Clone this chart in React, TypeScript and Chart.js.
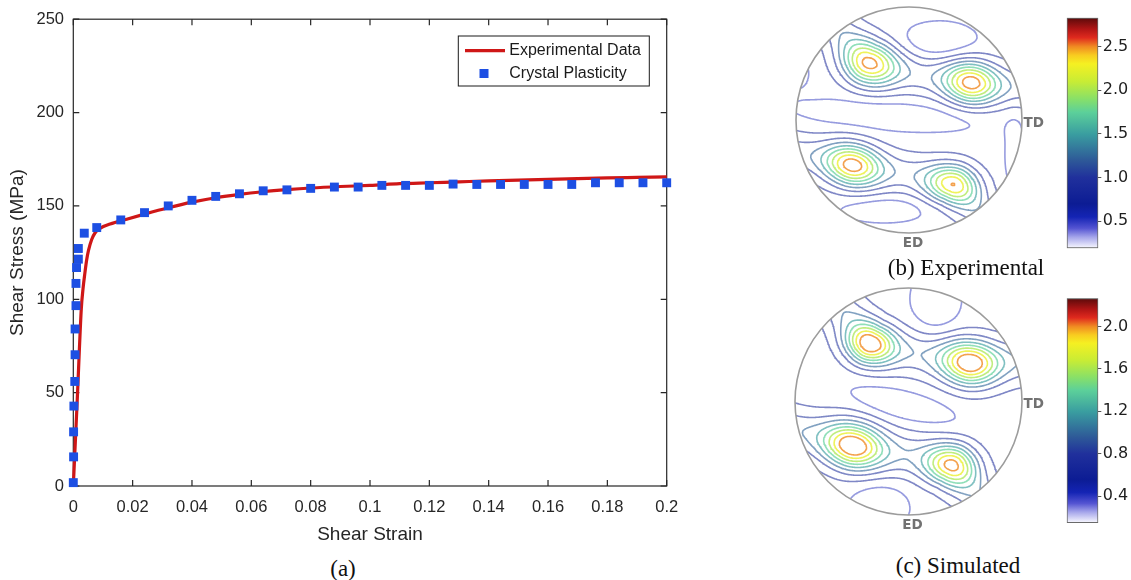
import { useEffect, useRef } from "react";
import { Chart, registerables } from "chart.js";

Chart.register(...registerables);

// ---------- (a) shear stress vs. shear strain ----------
const EXP_STRAIN = [0, 0.0013, 0.0027, 0.0033, 0.0039, 0.0045, 0.0051, 0.0062, 0.0073, 0.009, 0.0124, 0.018, 0.024, 0.032, 0.04, 0.048, 0.056, 0.064, 0.072, 0.08, 0.09, 0.1, 0.11, 0.12, 0.13, 0.14, 0.15, 0.16, 0.17, 0.18, 0.19, 0.2];
const EXP_STRESS = [0, 45, 95, 106, 114, 121, 126, 132, 135.5, 138, 140.3, 142.9, 145.6, 149, 152, 154.4, 156.2, 157.6, 158.7, 159.6, 160.4, 161, 161.9, 162.4, 162.9, 163.4, 163.8, 164.2, 164.6, 165, 165.3, 165.6];

const CP_STRAIN = [0, 0.0001, 0.0001, 0.0002, 0.0005, 0.0006, 0.0006, 0.0009, 0.0009, 0.0011, 0.0017, 0.0017, 0.0037, 0.0079, 0.016, 0.024, 0.032, 0.04, 0.048, 0.056, 0.064, 0.072, 0.08, 0.088, 0.096, 0.104, 0.112, 0.12, 0.128, 0.136, 0.144, 0.152, 0.16, 0.168, 0.176, 0.184, 0.192, 0.2];
const CP_STRESS = [1.8, 15.6, 29, 42.8, 56, 70.3, 84.1, 96.6, 108.5, 117, 121.5, 127.2, 135.4, 138.4, 142.5, 146.4, 150, 153, 155.1, 156.5, 158.1, 158.6, 159.4, 160.1, 160.1, 161, 161, 161, 161.7, 161.5, 161.5, 161.5, 161.5, 161.5, 162.4, 162.4, 162.4, 162.4];

const STRAIN_TICKS = [0, 0.02, 0.04, 0.06, 0.08, 0.1, 0.12, 0.14, 0.16, 0.18, 0.2];
const STRAIN_TICK_LABELS = ["0", "0.02", "0.04", "0.06", "0.08", "0.1", "0.12", "0.14", "0.16", "0.18", "0.2"];
const STRESS_TICKS = [0, 50, 100, 150, 200, 250];

const RED = "#cf1717";
const BLUE = "#1d4fe3";
const INK = "#262626";

// ---------- colour map used by both pole figures ----------
const CMAP_POS = [0, 0.049, 0.087, 0.136, 0.193, 0.307, 0.383, 0.496, 0.59, 0.648, 0.723, 0.8, 0.837, 0.875, 0.913, 0.951, 1];
const CMAP_HEX = ["#fafaff", "#a4a4ea", "#5454d2", "#1424b4", "#0c1c94", "#20309c", "#2e5a98", "#3a9ea0", "#5cd09a", "#88e068", "#c8ec35", "#f5f022", "#f8cc20", "#f08a22", "#e02a1e", "#b01515", "#5a0a0a"];

// ---------- (b) experimental pole figure: intensity model ----------
const B_BASE = 0.62;
const B_PEAK_U = [-0.35, 0.55, -0.5, 0.39];
const B_PEAK_V = [0.5, 0.33, -0.4, -0.57];
const B_PEAK_AMP = [1.5, 1.55, 1.55, 1.39];
const B_PEAK_SU = [0.17, 0.16, 0.17, 0.16];
const B_PEAK_SV = [0.14, 0.13, 0.13, 0.12];
const B_PEAK_ANGLE = [-20, -10, -15, -10];
const B_BAND_UPPER_U = [-0.75, -0.38, 0.1, 0.55, 1.1];
const B_BAND_UPPER_V = [0.95, 0.52, 0.4, 0.33, 0.28];
const B_BAND_LOWER_U = [-1.1, -0.5, 0.0, 0.39, 0.6, 0.75];
const B_BAND_LOWER_V = [-0.26, -0.4, -0.48, -0.57, -0.8, -1.05];
const B_BAND_AMP = 0.5;
const B_BAND_SIGMA = 0.12;
const B_DIP_U = [0.27, -0.2, -0.22, 0.93, -0.97];
const B_DIP_V = [0.7, 0.04, -0.79, -0.33, 0.42];
const B_DIP_AMP = [-0.36, -0.32, -0.3, -0.3, -0.25];
const B_DIP_SU = [0.24, 0.62, 0.3, 0.06, 0.07];
const B_DIP_SV = [0.12, 0.1, 0.09, 0.22, 0.1];
const B_DIP_ANGLE = [0, -4, 0, 0, 0];
const B_LEVELS = [0.5, 0.75, 1.0, 1.25, 1.5, 1.75, 2.0, 2.25, 2.5];
const B_CB_MIN = 0.19;
const B_CB_MAX = 2.83;
const B_CB_TICKS = [0.5, 1.0, 1.5, 2.0, 2.5];

// ---------- (c) simulated pole figure: intensity model ----------
const C_BASE = 0.5;
const C_PEAK_U = [-0.34, 0.54, -0.49, 0.38];
const C_PEAK_V = [0.51, 0.34, -0.39, -0.56];
const C_PEAK_AMP = [1.3, 1.3, 1.32, 1.15];
const C_PEAK_SU = [0.15, 0.17, 0.18, 0.155];
const C_PEAK_SV = [0.123, 0.135, 0.14, 0.124];
const C_PEAK_ANGLE = [-15, -10, -15, -10];
const C_BAND_UPPER_U = [-0.7, -0.34, 0.1, 0.54, 1.1];
const C_BAND_UPPER_V = [0.95, 0.51, 0.42, 0.34, 0.36];
const C_BAND_LOWER_U = [-1.1, -0.49, 0.0, 0.38, 0.58, 0.7];
const C_BAND_LOWER_V = [-0.22, -0.39, -0.47, -0.56, -0.8, -1.05];
const C_BAND_AMP = 0.45;
const C_BAND_SIGMA = 0.13;
const C_DIP_U = [0.24, -0.05, -0.26];
const C_DIP_V = [0.9, -0.03, -0.93];
const C_DIP_AMP = [-0.32, -0.3, -0.32];
const C_DIP_SU = [0.15, 0.33, 0.18];
const C_DIP_SV = [0.2, 0.09, 0.14];
const C_DIP_ANGLE = [0, -14, 0];
const C_LEVELS = [0.4, 0.6, 0.8, 1.0, 1.2, 1.4, 1.6, 1.8, 2.0];
const C_CB_MIN = 0.147;
const C_CB_MAX = 2.265;
const C_CB_TICKS = [0.4, 0.8, 1.2, 1.6, 2.0];

type PoleSpec = {
  base: number;
  peakU: number[]; peakV: number[]; peakAmp: number[]; peakSu: number[]; peakSv: number[]; peakAngle: number[];
  bandsU: number[][]; bandsV: number[][]; bandAmp: number; bandSigma: number;
  dipU: number[]; dipV: number[]; dipAmp: number[]; dipSu: number[]; dipSv: number[]; dipAngle: number[];
  levels: number[]; cbMin: number; cbMax: number;
};

const SPEC_B: PoleSpec = {
  base: B_BASE, peakU: B_PEAK_U, peakV: B_PEAK_V, peakAmp: B_PEAK_AMP, peakSu: B_PEAK_SU, peakSv: B_PEAK_SV, peakAngle: B_PEAK_ANGLE,
  bandsU: [B_BAND_UPPER_U, B_BAND_LOWER_U], bandsV: [B_BAND_UPPER_V, B_BAND_LOWER_V], bandAmp: B_BAND_AMP, bandSigma: B_BAND_SIGMA,
  dipU: B_DIP_U, dipV: B_DIP_V, dipAmp: B_DIP_AMP, dipSu: B_DIP_SU, dipSv: B_DIP_SV, dipAngle: B_DIP_ANGLE,
  levels: B_LEVELS, cbMin: B_CB_MIN, cbMax: B_CB_MAX,
};

const SPEC_C: PoleSpec = {
  base: C_BASE, peakU: C_PEAK_U, peakV: C_PEAK_V, peakAmp: C_PEAK_AMP, peakSu: C_PEAK_SU, peakSv: C_PEAK_SV, peakAngle: C_PEAK_ANGLE,
  bandsU: [C_BAND_UPPER_U, C_BAND_LOWER_U], bandsV: [C_BAND_UPPER_V, C_BAND_LOWER_V], bandAmp: C_BAND_AMP, bandSigma: C_BAND_SIGMA,
  dipU: C_DIP_U, dipV: C_DIP_V, dipAmp: C_DIP_AMP, dipSu: C_DIP_SU, dipSv: C_DIP_SV, dipAngle: C_DIP_ANGLE,
  levels: C_LEVELS, cbMin: C_CB_MIN, cbMax: C_CB_MAX,
};

// ---------- helpers ----------
function hexRgb(h: string) {
  return [parseInt(h.slice(1, 3), 16), parseInt(h.slice(3, 5), 16), parseInt(h.slice(5, 7), 16)];
}

function cmap(f: number, lighten = 0) {
  const t = Math.max(0, Math.min(1, f));
  let k = 0;
  while (k < CMAP_POS.length - 2 && t > CMAP_POS[k + 1]) k++;
  const a = hexRgb(CMAP_HEX[k]);
  const b = hexRgb(CMAP_HEX[k + 1]);
  const s = (t - CMAP_POS[k]) / (CMAP_POS[k + 1] - CMAP_POS[k]);
  const c = a.map((v, i) => v + (b[i] - v) * s).map((v) => Math.round(v + (255 - v) * lighten));
  return `rgb(${c[0]},${c[1]},${c[2]})`;
}

// contour strokes are a paler version of the colour-bar colour, more so for low levels
function contourColour(f: number) {
  return cmap(f, 0.55 - 0.4 * f);
}

function gauss(u: number, v: number, cu: number, cv: number, su: number, sv: number, angDeg: number) {
  const ang = (angDeg * Math.PI) / 180;
  const c = Math.cos(ang), s = Math.sin(ang);
  const du = u - cu, dv = v - cv;
  const a = (du * c + dv * s) / su;
  const b = (-du * s + dv * c) / sv;
  return Math.exp(-0.5 * (a * a + b * b));
}

function polyDist(u: number, v: number, pu: number[], pv: number[]) {
  let best = Infinity;
  for (let k = 0; k < pu.length - 1; k++) {
    const ax = pu[k], ay = pv[k], dx = pu[k + 1] - ax, dy = pv[k + 1] - ay;
    let t = ((u - ax) * dx + (v - ay) * dy) / (dx * dx + dy * dy);
    t = Math.max(0, Math.min(1, t));
    const ex = ax + t * dx - u, ey = ay + t * dy - v;
    best = Math.min(best, ex * ex + ey * ey);
  }
  return Math.sqrt(best);
}

function intensity(s: PoleSpec, u: number, v: number) {
  let f = s.base;
  for (let k = 0; k < s.peakU.length; k++) f += s.peakAmp[k] * gauss(u, v, s.peakU[k], s.peakV[k], s.peakSu[k], s.peakSv[k], s.peakAngle[k]);
  for (let k = 0; k < s.bandsU.length; k++) {
    const d = polyDist(u, v, s.bandsU[k], s.bandsV[k]) / s.bandSigma;
    f += s.bandAmp * Math.exp(-0.5 * d * d);
  }
  for (let k = 0; k < s.dipU.length; k++) f += s.dipAmp[k] * gauss(u, v, s.dipU[k], s.dipV[k], s.dipSu[k], s.dipSv[k], s.dipAngle[k]);
  return f;
}

const GRID_N = 200;
const GRID_LO = -1.05;
const GRID_HI = 1.05;

// marching-squares edge pairs per cell case (edges: 0 bottom, 1 right, 2 top, 3 left)
const MS_CASES: number[][] = [[], [3, 0], [0, 1], [3, 1], [1, 2], [], [0, 2], [3, 2], [3, 2], [0, 2], [], [1, 2], [3, 1], [0, 1], [3, 0], []];

function sampleGrid(s: PoleSpec) {
  const m = GRID_N + 1;
  const step = (GRID_HI - GRID_LO) / GRID_N;
  const g = new Float64Array(m * m);
  for (let j = 0; j < m; j++) for (let i = 0; i < m; i++) g[j * m + i] = intensity(s, GRID_LO + i * step, GRID_LO + j * step);
  return g;
}

function contourPoints(g: Float64Array, level: number) {
  const m = GRID_N + 1;
  const step = (GRID_HI - GRID_LO) / GRID_N;
  const pts: { x: number; y: number | null }[] = [];
  for (let j = 0; j < GRID_N; j++) {
    for (let i = 0; i < GRID_N; i++) {
      const a = g[j * m + i], b = g[j * m + i + 1], c = g[(j + 1) * m + i + 1], d = g[(j + 1) * m + i];
      const idx = (a >= level ? 1 : 0) | (b >= level ? 2 : 0) | (c >= level ? 4 : 0) | (d >= level ? 8 : 0);
      if (idx === 0 || idx === 15) continue;
      const x0 = GRID_LO + i * step, y0 = GRID_LO + j * step;
      const edge = (e: number): [number, number] => {
        if (e === 0) return [x0 + ((level - a) / (b - a)) * step, y0];
        if (e === 1) return [x0 + step, y0 + ((level - b) / (c - b)) * step];
        if (e === 2) return [x0 + ((level - d) / (c - d)) * step, y0 + step];
        return [x0, y0 + ((level - a) / (d - a)) * step];
      };
      let pairs: number[][];
      const centre = (a + b + c + d) / 4 >= level;
      if (idx === 5) pairs = centre ? [[0, 1], [3, 2]] : [[3, 0], [1, 2]];
      else if (idx === 10) pairs = centre ? [[3, 0], [1, 2]] : [[0, 1], [3, 2]];
      else pairs = [MS_CASES[idx]];
      for (const [e1, e2] of pairs) {
        const p = edge(e1), q = edge(e2);
        pts.push({ x: p[0], y: p[1] }, { x: q[0], y: q[1] }, { x: q[0], y: null });
      }
    }
  }
  return pts;
}

// ---------- chart plugins ----------
const stressFramePlugin = {
  id: "stressFrame",
  beforeDatasetsDraw(chart: any) {
    const { ctx, chartArea: a } = chart;
    const xs = chart.scales.x, ys = chart.scales.y;
    ctx.save();
    ctx.strokeStyle = INK;
    ctx.lineWidth = 1.2;
    ctx.strokeRect(a.left, a.top, a.right - a.left, a.bottom - a.top);
    ctx.beginPath();
    for (const v of STRAIN_TICKS) {
      const x = xs.getPixelForValue(v);
      ctx.moveTo(x, a.bottom); ctx.lineTo(x, a.bottom - 6);
      ctx.moveTo(x, a.top); ctx.lineTo(x, a.top + 6);
    }
    for (const v of STRESS_TICKS) {
      const y = ys.getPixelForValue(v);
      ctx.moveTo(a.left, y); ctx.lineTo(a.left + 6, y);
      ctx.moveTo(a.right, y); ctx.lineTo(a.right - 6, y);
    }
    ctx.stroke();
    ctx.restore();
  },
  afterDatasetsDraw(chart: any) {
    const { ctx, chartArea: a } = chart;
    const ds = chart.data.datasets;
    const lx = a.right - 208.4, ly = a.top + 16.8, lw = 191, lh = 50;
    ctx.save();
    ctx.fillStyle = "#fff";
    ctx.fillRect(lx, ly, lw, lh);
    ctx.strokeStyle = "#1a1a1a";
    ctx.lineWidth = 1;
    ctx.strokeRect(lx, ly, lw, lh);
    ctx.strokeStyle = RED;
    ctx.lineWidth = 3.2;
    ctx.beginPath();
    ctx.moveTo(lx + 6.7, ly + 14.7);
    ctx.lineTo(lx + 46.7, ly + 14.7);
    ctx.stroke();
    ctx.fillStyle = BLUE;
    ctx.fillRect(lx + 21.2, ly + 33, 9, 9);
    ctx.fillStyle = "#1a1a1a";
    ctx.font = '16px "Liberation Sans", Arial, sans-serif';
    ctx.textBaseline = "middle";
    ctx.textAlign = "left";
    ctx.fillText(ds[0].label, lx + 51, ly + 15);
    ctx.fillText(ds[1].label, lx + 51, ly + 37.5);
    ctx.restore();
  },
};

const poleFramePlugin = {
  id: "poleFrame",
  beforeDatasetsDraw(chart: any) {
    const { ctx } = chart;
    const xs = chart.scales.x, ys = chart.scales.y;
    const cx = xs.getPixelForValue(0), cy = ys.getPixelForValue(0);
    const r = (xs.getPixelForValue(1) - xs.getPixelForValue(-1)) / 2;
    ctx.save();
    ctx.beginPath();
    ctx.arc(cx, cy, r, 0, Math.PI * 2);
    ctx.clip();
  },
  afterDatasetsDraw(chart: any) {
    const { ctx } = chart;
    ctx.restore();
    const xs = chart.scales.x, ys = chart.scales.y;
    const cx = xs.getPixelForValue(0), cy = ys.getPixelForValue(0);
    const r = (xs.getPixelForValue(1) - xs.getPixelForValue(-1)) / 2;
    ctx.save();
    ctx.strokeStyle = "#9c9c9c";
    ctx.lineWidth = 1.6;
    ctx.beginPath();
    ctx.arc(cx, cy, r, 0, Math.PI * 2);
    ctx.stroke();
    ctx.fillStyle = "#727272";
    ctx.font = 'bold 13.5px "DejaVu Sans", sans-serif';
    ctx.textBaseline = "middle";
    ctx.textAlign = "left";
    ctx.fillText("TD", cx + r + 1.5, cy + 3);
    ctx.textAlign = "center";
    ctx.fillText("ED", cx + 4, cy + r + 10);
    ctx.restore();
  },
};

// ---------- components ----------
function StressStrainChart() {
  const ref = useRef<HTMLCanvasElement>(null);
  useEffect(() => {
    const tickFont = { family: '"Liberation Sans", Arial, sans-serif', size: 16.5 };
    const titleFont = { family: '"Liberation Sans", Arial, sans-serif', size: 19 };
    const chart = new Chart(ref.current!, {
      type: "scatter",
      data: {
        datasets: [
          {
            label: "Experimental Data",
            data: EXP_STRAIN.map((x, i) => ({ x, y: EXP_STRESS[i] })),
            showLine: true,
            borderColor: RED,
            backgroundColor: RED,
            borderWidth: 3.2,
            pointRadius: 0,
            cubicInterpolationMode: "monotone",
            order: 1,
            clip: false,
          } as any,
          {
            label: "Crystal Plasticity",
            data: CP_STRAIN.map((x, i) => ({ x, y: CP_STRESS[i] })),
            showLine: false,
            pointStyle: "rect",
            pointRadius: 6.3,
            pointBorderWidth: 0,
            backgroundColor: BLUE,
            borderColor: BLUE,
            order: 0,
            clip: false,
          } as any,
        ],
      },
      options: {
        responsive: false,
        animation: false,
        events: [],
        layout: { padding: { left: 0, right: 33.3, top: 17.5, bottom: 0 } },
        plugins: { legend: { display: false }, tooltip: { enabled: false } },
        scales: {
          x: {
            type: "linear",
            min: 0,
            max: 0.2,
            afterBuildTicks: (s: any) => { s.ticks = STRAIN_TICKS.map((value) => ({ value })); },
            afterFit: (s: any) => { s.height = 64; },
            ticks: {
              autoSkip: false,
              maxRotation: 0,
              padding: 12,
              color: INK,
              font: tickFont,
              callback: (_v: any, i: number) => STRAIN_TICK_LABELS[i],
            },
            grid: { display: false, drawTicks: false },
            border: { display: false },
            title: { display: true, text: "Shear Strain", color: INK, font: titleFont, padding: { top: 0, bottom: 3.6 } },
          },
          y: {
            type: "linear",
            min: 0,
            max: 250,
            afterBuildTicks: (s: any) => { s.ticks = STRESS_TICKS.map((value) => ({ value })); },
            afterFit: (s: any) => { s.width = 73.3; },
            ticks: { padding: 9.3, color: INK, font: tickFont },
            grid: { display: false, drawTicks: false },
            border: { display: false },
            title: { display: true, text: "Shear Stress (MPa)", color: INK, font: titleFont, padding: { top: 6.6, bottom: 0 } },
          },
        },
      } as any,
      plugins: [stressFramePlugin],
    });
    return () => chart.destroy();
  }, []);
  return <canvas ref={ref} width={700} height={550} style={{ position: "absolute", left: 0, top: 0 }} />;
}

function PoleFigure({ spec, left, top, width, height, pad }: { spec: PoleSpec; left: number; top: number; width: number; height: number; pad: { left: number; right: number; top: number; bottom: number } }) {
  const ref = useRef<HTMLCanvasElement>(null);
  useEffect(() => {
    const grid = sampleGrid(spec);
    const datasets = spec.levels.map((level) => ({
      label: `${level}`,
      data: contourPoints(grid, level),
      showLine: true,
      spanGaps: false,
      borderColor: contourColour((level - spec.cbMin) / (spec.cbMax - spec.cbMin)),
      borderWidth: 1.6,
      borderCapStyle: "round",
      borderJoinStyle: "round",
      pointRadius: 0,
      tension: 0,
    }));
    const chart = new Chart(ref.current!, {
      type: "scatter",
      data: { datasets: datasets as any },
      options: {
        responsive: false,
        animation: false,
        events: [],
        layout: { padding: pad },
        plugins: { legend: { display: false }, tooltip: { enabled: false } },
        scales: {
          x: { type: "linear", min: -1, max: 1, display: false },
          y: { type: "linear", min: -1, max: 1, display: false },
        },
      } as any,
      plugins: [poleFramePlugin],
    });
    return () => chart.destroy();
  }, []);
  return <canvas ref={ref} width={width} height={height} style={{ position: "absolute", left, top }} />;
}

function ColorBar({ min, max, ticks, left, top, width, height, pad }: { min: number; max: number; ticks: number[]; left: number; top: number; width: number; height: number; pad: { left: number; top: number; bottom: number } }) {
  const ref = useRef<HTMLCanvasElement>(null);
  useEffect(() => {
    const chart = new Chart(ref.current!, {
      type: "bar",
      data: {
        labels: [""],
        datasets: [
          {
            data: [[min, max]] as any,
            barPercentage: 1,
            categoryPercentage: 1,
            borderWidth: 1.3,
            borderColor: "#6a6a6a",
            borderSkipped: false,
            backgroundColor: (c: any) => {
              const area = c.chart.chartArea;
              if (!area) return "#fff";
              const gr = c.chart.ctx.createLinearGradient(0, area.bottom, 0, area.top);
              CMAP_POS.forEach((p, i) => gr.addColorStop(p, CMAP_HEX[i]));
              return gr;
            },
          },
        ],
      },
      options: {
        responsive: false,
        animation: false,
        events: [],
        layout: { padding: { left: pad.left, right: 0, top: pad.top, bottom: pad.bottom } },
        plugins: { legend: { display: false }, tooltip: { enabled: false } },
        scales: {
          x: { display: false },
          y: {
            position: "right",
            min,
            max,
            afterBuildTicks: (s: any) => { s.ticks = ticks.map((value) => ({ value })); },
            afterFit: (s: any) => { s.width = 32.7; },
            ticks: {
              padding: 1.5,
              color: "#1e1e1e",
              font: { family: '"DejaVu Sans", sans-serif', size: 16 },
              callback: (v: any) => Number(v).toFixed(1),
            },
            grid: { drawOnChartArea: false, drawTicks: true, tickLength: 3, color: "#555" },
            border: { display: false },
          },
        },
      } as any,
    });
    return () => chart.destroy();
  }, []);
  return <canvas ref={ref} width={width} height={height} style={{ position: "absolute", left, top }} />;
}

const captionStyle = (x: number, y: number): any => ({
  position: "absolute",
  left: x,
  top: y,
  transform: "translate(-50%, -50%)",
  font: '23px "Liberation Serif", "Times New Roman", serif',
  color: "#111",
  whiteSpace: "nowrap",
  lineHeight: 1,
});

export default function App() {
  return (
    <div style={{ position: "fixed", left: 0, top: 0, width: 1131, height: 580, background: "#fff", overflow: "hidden" }}>
      <StressStrainChart />
      <div style={captionStyle(343, 568)}>(a)</div>

      <PoleFigure spec={SPEC_B} left={790} top={0} width={270} height={260} pad={{ left: 6, right: 38, top: 7, bottom: 27 }} />
      <ColorBar min={B_CB_MIN} max={B_CB_MAX} ticks={B_CB_TICKS} left={1060} top={0} width={71} height={260} pad={{ left: 6.7, top: 17.7, bottom: 11.7 }} />
      <div style={captionStyle(966, 267)}>(b) Experimental</div>

      <PoleFigure spec={SPEC_C} left={790} top={284} width={270} height={250} pad={{ left: 5, right: 38, top: 4, bottom: 19 }} />
      <ColorBar min={C_CB_MIN} max={C_CB_MAX} ticks={C_CB_TICKS} left={1060} top={284} width={71} height={250} pad={{ left: 6.7, top: 14.3, bottom: 4 }} />
      <div style={captionStyle(958, 565)}>(c) Simulated</div>
    </div>
  );
}
